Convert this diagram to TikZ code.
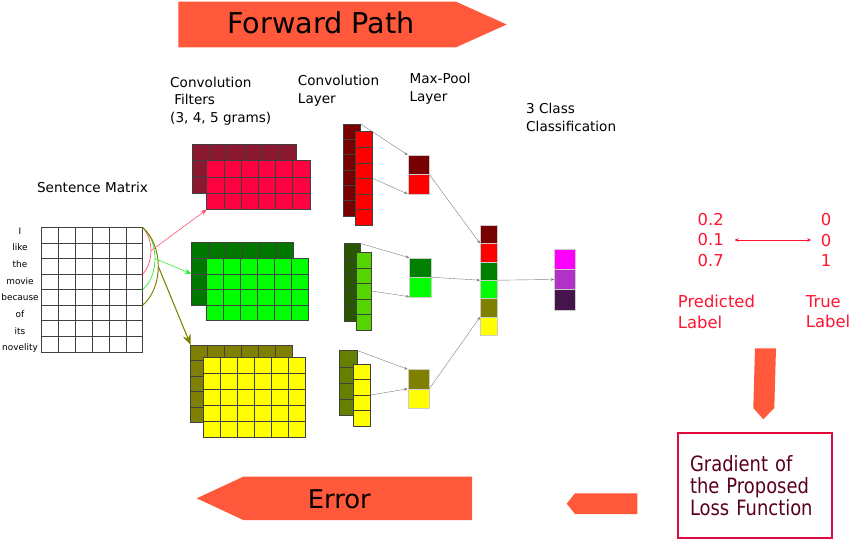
\documentclass[tikz,border=0pt]{standalone}
\usepackage{fontspec}
\setmainfont{DejaVu Sans}
\newfontfamily\condfont{DejaVu Sans}[FakeStretch=0.85]
\usetikzlibrary{positioning}
\usetikzlibrary{arrows.meta}
\definecolor{arrowfill}{RGB}{255,88,58}
\definecolor{fRedBack}{RGB}{140,24,48}
\definecolor{fRedFront}{RGB}{255,0,64}
\definecolor{fGreenBack}{RGB}{0,120,0}
\definecolor{cRedBack}{RGB}{120,0,0}
\definecolor{cGreenBack}{RGB}{40,85,0}
\definecolor{cGreenFront}{RGB}{85,212,0}
\definecolor{cOliveBack}{RGB}{102,128,0}
\definecolor{poolGreen}{RGB}{0,128,0}
\definecolor{brightGreen}{RGB}{0,255,0}
\definecolor{brightYellow}{RGB}{255,255,0}
\definecolor{brightRed}{RGB}{255,0,0}
\definecolor{darkOlive}{RGB}{128,128,0}
\definecolor{outTop}{RGB}{255,0,255}
\definecolor{outMid}{RGB}{178,50,200}
\definecolor{outDark}{RGB}{68,20,75}
\definecolor{curvered}{RGB}{255,80,110}
\definecolor{curvegreen}{RGB}{40,240,40}
\definecolor{lossred}{RGB}{255,20,50}
\definecolor{lossborder}{RGB}{225,10,60}
\definecolor{lossdark}{RGB}{90,0,30}
\tikzset{
    block/.style = {rectangle, inner sep=0pt, outer sep=0pt, anchor=north west},
    cellline/.style = {draw=black!75, line width=0.4pt},
    unit/.style = {block, draw=black!20, line width=0.2pt},
    poolcell/.style = {unit, minimum width=6.48mm, minimum height=5.85mm},
    catcell/.style = {unit, minimum width=5.19mm, minimum height=5.52mm},
    outcell/.style = {unit, minimum width=6.21mm, minimum height=6.09mm},
    lbl/.style = {anchor=north west, align=left, inner sep=0pt, font=\fontsize{11.6}{14.9}\selectfont},
    word/.style = {inner sep=0pt, font=\fontsize{7.6}{9}\selectfont, text height=1.5ex, text depth=0.25ex},
    redtxt/.style = {text=lossred, inner sep=0pt, font=\fontsize{14}{17.6}\selectfont},
    bigarrow/.style = {fill=arrowfill, draw=none},
    edgeg/.style = {-{Stealth[length=3pt,width=2.4pt]}, draw=gray, line width=0.35pt},
    edger/.style = {-{Stealth[length=5pt,width=4pt]}, draw=curvered, line width=0.5pt},
    edgel/.style = {-{Stealth[length=6pt,width=4.5pt]}, draw=curvegreen, line width=0.5pt},
    edgeo/.style = {-{Stealth[length=9pt,width=7pt]}, draw=darkOlive, line width=0.9pt},
    edgelr/.style = {{Stealth[length=3.5pt,width=3pt]}-{Stealth[length=3.5pt,width=3pt]}, draw=lossred, line width=0.4pt},
}
% name, left, top, cell w, cell h, cols, rows, fill
\newcommand{\cellblock}[8]{%
  \node[block, minimum width=#6*#4*0.3mm, minimum height=#7*#5*0.3mm, fill=#8] (#1) at (#2,#3) {};
  \foreach \i in {1,...,#6}{
    \foreach \j in {1,...,#7}{
      \draw[cellline] ({#2+(\i-1)*#4},{#3+(\j-1)*#5}) rectangle ++(#4,#5);
    }
  }
}

\begin{document}
\begin{tikzpicture}[x=0.3mm,y=-0.3mm]
  \useasboundingbox (0,0) rectangle (850,541);

  % big arrows
  \fill[bigarrow] (178.3,1.7) -- (456,1.7) -- (506.7,24.5) -- (456,47.3) -- (178.3,47.3) -- cycle;
  \fill[bigarrow] (472,476.7) -- (243.3,476.7) -- (196.7,498.3) -- (243.3,520) -- (472,520) -- cycle;
  \fill[bigarrow] (637.3,493.3) -- (575,493.3) -- (566.7,503.6) -- (575,514) -- (637.3,514) -- cycle;
  \fill[bigarrow] (755,348.3) -- (776,348.3) -- (774.3,408) -- (763.3,419.3) -- (753.3,408) -- cycle;
  \node[font=\fontsize{24.5}{28}\selectfont] (fwd) at (321,23) {Forward Path};
  \node[font=\fontsize{22}{26}\selectfont] (err) at (339.3,499) {Error};

  % sentence matrix
  \node[font=\fontsize{11.6}{14}\selectfont] (smtitle) at (92.5,187) {Sentence Matrix};
  \cellblock{sm}{41.7}{227.5}{16.83}{15.53}{6}{8}{white}
  \foreach \w [count=\k from 0] in {I,like,the,movie,because,of,its,novelity}
    \node[word] (w\k) at (20,230+\k*16.7) {\w};

  % filters
  \cellblock{fRb}{192.7}{144}{17.2}{16.3}{6}{3}{fRedBack}
  \cellblock{fRf}{206.7}{160.7}{17.2}{16.3}{6}{3}{fRedFront}
  \cellblock{fGb}{191.7}{242.7}{17}{15.6}{6}{4}{fGreenBack}
  \cellblock{fGf}{206}{258.3}{17}{15.6}{6}{4}{brightGreen}
  \cellblock{fYb}{190.7}{345}{16.9}{15.5}{6}{5}{darkOlive}
  \cellblock{fYf}{203.3}{357.3}{17}{15.9}{6}{5}{brightYellow}

  % n-gram windows
  \coordinate (g3) at (142.7,274.1);
  \coordinate (g4) at (142.7,289.6);
  \coordinate (g5) at (142.7,305.2);
  \draw[curvered, line width=0.6pt] (sm.north east) .. controls +(11,12) and +(11,-12) .. (g3) coordinate[pos=0.5] (mR);
  \draw[curvegreen, line width=0.6pt] (sm.north east) .. controls +(16.4,14) and +(16.4,-14) .. (g4) coordinate[pos=0.5] (mG);
  \draw[darkOlive, line width=0.8pt] (sm.north east) .. controls +(20.8,18) and +(20.8,-18) .. (g5) coordinate[pos=0.5] (mY);
  \draw[edger] (mR) -- (fRf.south west);
  \draw[edgel] (mG) -- (fGb.west);
  \draw[edgeo] (mY) -- (fYb.north west);

  % convolution layer
  \cellblock{cRb}{343.3}{124}{17.4}{15.33}{1}{6}{cRedBack}
  \cellblock{cRf}{355.7}{131.7}{17}{15.55}{1}{6}{brightRed}
  \cellblock{cGb}{344.3}{243.3}{15.7}{15.5}{1}{5}{cGreenBack}
  \cellblock{cGf}{356.7}{252.3}{15}{15.5}{1}{5}{cGreenFront}
  \cellblock{cYb}{339}{350.7}{18.7}{16.1}{1}{4}{cOliveBack}
  \cellblock{cYf}{353.3}{364}{17.4}{15.5}{1}{4}{brightYellow}

  % max-pool
  \node[poolcell, fill=cRedBack] (poolRa) at (407.7,155) {};
  \node[poolcell, fill=brightRed] (poolRb) at (407.7,174.5) {};
  \node[poolcell, fill=poolGreen] (poolGa) at (409.3,257.7) {};
  \node[poolcell, fill=brightGreen] (poolGb) at (409.3,277.2) {};
  \node[poolcell, fill=darkOlive] (poolYa) at (407.7,369.3) {};
  \node[poolcell, fill=brightYellow] (poolYb) at (407.7,388.8) {};

  % concatenated vector
  \node[catcell, fill=cRedBack] (catA) at (480,225) {};
  \node[catcell, fill=brightRed] (catB) at (480,243.4) {};
  \node[catcell, fill=poolGreen] (catC) at (480,261.8) {};
  \node[catcell, fill=brightGreen] (catD) at (480,280.2) {};
  \node[catcell, fill=darkOlive] (catE) at (480,298.6) {};
  \node[catcell, fill=brightYellow] (catF) at (480,317) {};

  % output
  \node[outcell, fill=outTop] (outA) at (554.3,249) {};
  \node[outcell, fill=outMid] (outB) at (554.3,269.3) {};
  \node[outcell, fill=outDark] (outC) at (554.3,289.6) {};

  \draw[edgeg] (cRb.north east) -- (poolRa.north west);
  \draw[edgeg] (cRf.east) -- (poolRb.south west);
  \draw[edgeg] (cGb.north east) -- (poolGa.north west);
  \draw[edgeg] (cGf.east) -- (poolGb.south west);
  \draw[edgeg] (cYb.north east) -- (poolYa.north west);
  \draw[edgeg] (cYf.east) -- (poolYb.north west);
  \draw[edgeg] (poolRa.south east) -- (catA.south west);
  \draw[edgeg] (poolGa.south east) -- (catC.south west);
  \draw[edgeg] (poolYa.south east) -- (catE.south west);
  \draw[edgeg] (catC.south east) -- (outB.west);

  % labels
  \node[lbl] (lfilter) at (170,76.6) {Convolution\\\hspace*{3.5pt}Filters\\(3, 4, 5 grams)};
  \node[lbl] (lconv) at (297.7,75) {Convolution\\Layer};
  \node[lbl] (lpool) at (409.3,73.3) {Max-Pool\\Layer};
  \node[lbl] (lclass) at (526,103.3) {3 Class\\Classification};

  % loss
  \node[redtxt, align=center] (pred) at (710.7,240) {0.2\\0.1\\0.7};
  \node[redtxt, align=center] (truth) at (826,240) {0\\0\\1};
  \draw[edgelr, shorten <=9pt, shorten >=8pt] (pred) -- (truth);
  \node[redtxt, anchor=north west, align=left] (plbl) at (677.7,295) {Predicted\\Label};
  \node[redtxt, anchor=north west, align=left] (tlbl) at (805.7,295) {True\\Label};
  \node[draw=lossborder, line width=1.8pt, minimum width=4.6cm, minimum height=3.17cm,
        text width=3.9cm, align=left, inner xsep=0.35cm, text=lossdark,
        font=\condfont\fontsize{18}{18.7}\selectfont] (loss) at (755,485.5) {Gradient of\\the Proposed\\Loss Function};
\end{tikzpicture}
\end{document}
